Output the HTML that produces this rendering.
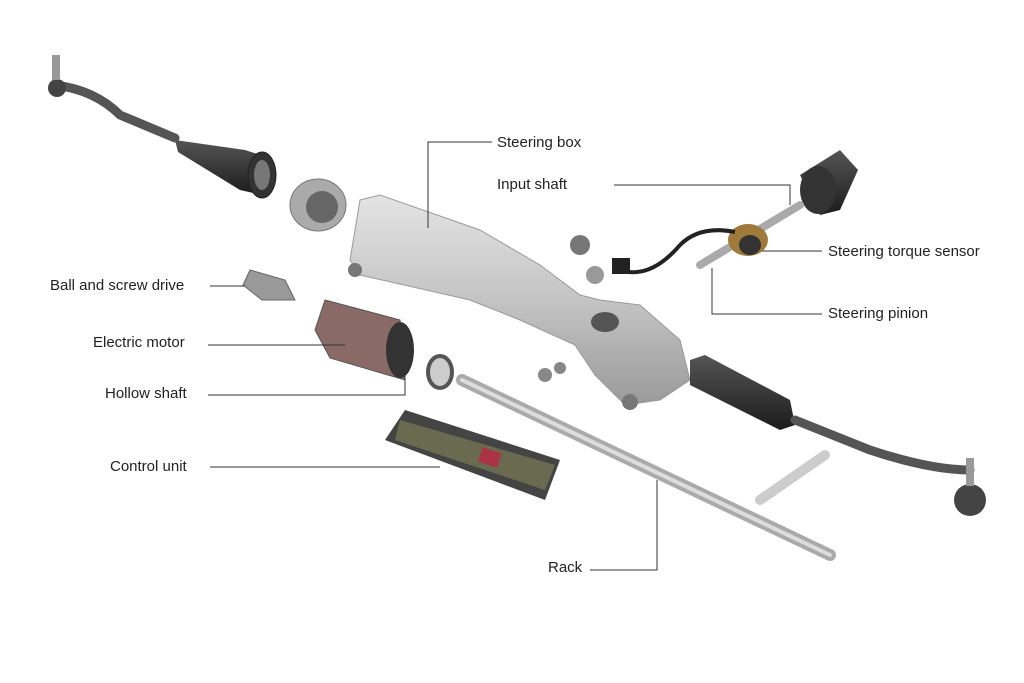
<!DOCTYPE html>
<html><head><meta charset="utf-8"><style>
html,body{margin:0;padding:0;background:#fff;}
svg{display:block}
text{font-family:"Liberation Sans",sans-serif;font-size:15px;fill:#222;}
</style></head><body>
<svg width="1024" height="683" viewBox="0 0 1024 683" xmlns="http://www.w3.org/2000/svg">
<rect width="1024" height="683" fill="#fff"/>
<defs>
<linearGradient id="g1" x1="0" y1="0" x2="0" y2="1"><stop offset="0" stop-color="#e4e4e4"/><stop offset="0.5" stop-color="#c4c4c4"/><stop offset="1" stop-color="#9a9a9a"/></linearGradient>
<linearGradient id="g2" x1="0" y1="0" x2="0" y2="1"><stop offset="0" stop-color="#555"/><stop offset="1" stop-color="#1c1c1c"/></linearGradient>
</defs>
<!-- left tie rod -->
<path d="M55 85 Q95 90 120 115 L175 138" stroke="#555" stroke-width="9" fill="none" stroke-linecap="round"/>
<circle cx="57" cy="88" r="9" fill="#444"/>
<rect x="52" y="55" width="8" height="25" fill="#999"/>
<path d="M175 140 L245 150 L270 158 L262 195 L240 190 L178 152 Z" fill="url(#g2)"/>
<ellipse cx="262" cy="175" rx="14" ry="23" fill="#333" stroke="#222"/>
<ellipse cx="262" cy="175" rx="8" ry="15" fill="#777"/>
<!-- flange -->
<ellipse cx="318" cy="205" rx="28" ry="26" fill="#aaa" stroke="#777"/>
<ellipse cx="322" cy="207" rx="16" ry="16" fill="#666"/>
<!-- steering box -->
<path d="M360 200 L380 195 L480 230 L540 265 L580 295 L600 300 L640 305 L680 340 L690 380 L660 400 L625 405 L595 375 L575 345 L520 320 L470 300 L360 275 L350 260 Z" fill="url(#g1)" stroke="#999"/>
<circle cx="355" cy="270" r="7" fill="#777"/><circle cx="630" cy="402" r="8" fill="#777"/>
<ellipse cx="605" cy="322" rx="14" ry="10" fill="#555"/>
<!-- right boot & tie rod -->
<path d="M690 360 L705 355 L790 400 L795 425 L780 430 L690 385 Z" fill="url(#g2)"/>
<path d="M795 420 L870 450 Q930 470 970 470" stroke="#555" stroke-width="9" fill="none" stroke-linecap="round"/>
<circle cx="970" cy="500" r="16" fill="#444"/>
<rect x="966" y="458" width="8" height="28" fill="#999"/>
<!-- top right boot -->
<path d="M800 175 L840 150 L858 170 L840 210 L820 215 Z" fill="url(#g2)"/>
<ellipse cx="818" cy="190" rx="18" ry="24" fill="#333"/>
<!-- input shaft / sensor -->
<path d="M700 265 L800 205" stroke="#aaa" stroke-width="8" stroke-linecap="round"/>
<ellipse cx="748" cy="240" rx="20" ry="16" fill="#a07a3a"/>
<ellipse cx="750" cy="245" rx="11" ry="10" fill="#333"/>
<path d="M620 270 Q650 280 680 245 Q700 225 735 232" stroke="#222" stroke-width="4" fill="none"/>
<rect x="612" y="258" width="18" height="16" fill="#222"/>
<!-- small parts -->
<circle cx="580" cy="245" r="10" fill="#777"/><circle cx="595" cy="275" r="9" fill="#999"/>
<!-- ball screw -->
<path d="M250 270 L285 280 L295 300 L262 300 L243 285 Z" fill="#999" stroke="#666"/>
<!-- motor -->
<path d="M325 300 L400 320 L405 380 L330 358 L315 330 Z" fill="#8a6a66" stroke="#555"/>
<ellipse cx="400" cy="350" rx="14" ry="28" fill="#333"/>
<!-- bearing -->
<ellipse cx="440" cy="372" rx="12" ry="16" fill="#ccc" stroke="#555" stroke-width="4"/>
<circle cx="545" cy="375" r="7" fill="#888"/><circle cx="560" cy="368" r="6" fill="#888"/>
<!-- rack -->
<path d="M462 380 L830 555" stroke="#aaa" stroke-width="12" stroke-linecap="round"/>
<path d="M462 380 L830 555" stroke="#ddd" stroke-width="4" stroke-linecap="round"/>
<path d="M760 500 L825 455" stroke="#ccc" stroke-width="10" stroke-linecap="round"/>
<!-- control unit -->
<path d="M385 440 L405 410 L560 460 L545 500 Z" fill="#444"/>
<path d="M400 420 L555 465 L545 490 L395 440 Z" fill="#6a6a50"/>
<rect x="480" y="450" width="20" height="15" fill="#a34" transform="rotate(18 490 457)"/>
<!-- leader lines -->
<g stroke="#333" stroke-width="1" fill="none">
<polyline points="492,142 428,142 428,228"/>
<polyline points="614,185 790,185 790,205"/>
<line x1="762" y1="251" x2="822" y2="251"/>
<polyline points="712,268 712,314 822,314"/>
<line x1="210" y1="286" x2="245" y2="286"/>
<line x1="208" y1="345" x2="345" y2="345"/>
<polyline points="208,395 405,395 405,365"/>
<line x1="210" y1="467" x2="440" y2="467"/>
<polyline points="590,570 657,570 657,480"/>
</g>
<text x="497" y="147">Steering box</text>
<text x="497" y="189">Input shaft</text>
<text x="828" y="256">Steering torque sensor</text>
<text x="828" y="318">Steering pinion</text>
<text x="50" y="290">Ball and screw drive</text>
<text x="93" y="347">Electric motor</text>
<text x="105" y="398">Hollow shaft</text>
<text x="110" y="471">Control unit</text>
<text x="548" y="572">Rack</text>
</svg>
</body></html>
